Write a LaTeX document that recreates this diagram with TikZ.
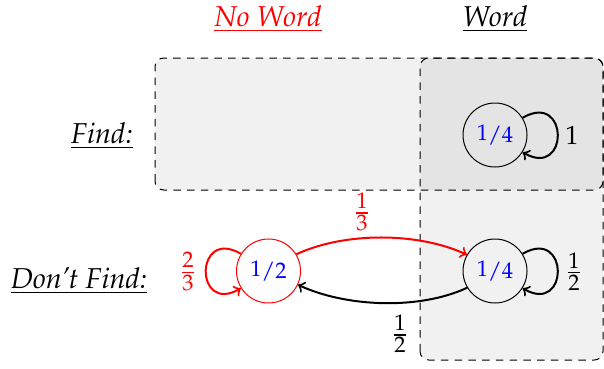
\documentclass[tikz,border=0pt]{standalone}
\usepackage[T1]{fontenc}
\usepackage{mathpazo}
\usetikzlibrary{calc}
\begin{document}
\begin{tikzpicture}[x=0.4pt,y=0.4pt,
  state/.style={circle,draw,thin,minimum size=25.6pt,inner sep=0pt,text=blue,font=\fontsize{9}{10.8}\selectfont},
  lbl/.style={font=\fontsize{11.5}{14}\selectfont\itshape,inner sep=1pt},
  frc/.style={font=\fontsize{12}{14}\selectfont,inner sep=1pt},
  trans/.style={->,thick},
  regionfill/.style={fill=black,fill opacity=0.055,rounded corners=3.5pt},
  regionline/.style={draw=black,dash pattern=on 3pt off 2.5pt,thin,rounded corners=3.5pt}]
\useasboundingbox (0,0) rectangle (604,368);
% regions
\fill[regionfill] (155,178) rectangle (603,310);
\fill[regionfill] (420,8) rectangle (603,310);
\draw[regionline] (155,178) rectangle (603,310);
\draw[regionline] (420,8) rectangle (603,310);
% headers
\node[lbl,text=red] (nw) at (268,349) {\underline{No Word}};
\node[lbl] (w) at (495,349) {\underline{Word}};
\node[lbl] (f) at (102,232) {\underline{Find:}};
\node[lbl] (df) at (79,87) {\underline{Don't Find:}};
% states
\node[state] (fw) at (495,233) {\raisebox{0.5pt}{1}/4};
\node[state,draw=red] (nd) at (268.5,97) {\raisebox{0.5pt}{1}/2};
\node[state] (dw) at (495,97) {\raisebox{0.5pt}{1}/4};
% transitions
\draw[trans] (fw.32) .. controls +(30:21.6pt) and +(-30:21.6pt) .. (fw.-32);
\draw[trans] (dw.32) .. controls +(30:21.6pt) and +(-30:21.6pt) .. (dw.-32);
\draw[trans,red] (nd.148) .. controls +(150:21.6pt) and +(210:21.6pt) .. (nd.212);
\draw[trans,red] (nd.31) to[out=25,in=155,looseness=0.8] (dw.150);
\draw[trans] (dw.211) to[out=-155,in=-25,looseness=0.8] (nd.-25);
% labels
\node[frc] (l1) at (572,233) {\fontsize{10.5}{12}\selectfont$1$};
\node[frc] (l2) at (574,96.5) {$\frac{1}{2}$};
\node[frc,text=red] (l3) at (188,96.5) {$\frac{2}{3}$};
\node[frc,text=red] (l4) at (362,156) {$\frac{1}{3}$};
\node[frc] (l5) at (400,34) {$\frac{1}{2}$};
\end{tikzpicture}
\end{document}
